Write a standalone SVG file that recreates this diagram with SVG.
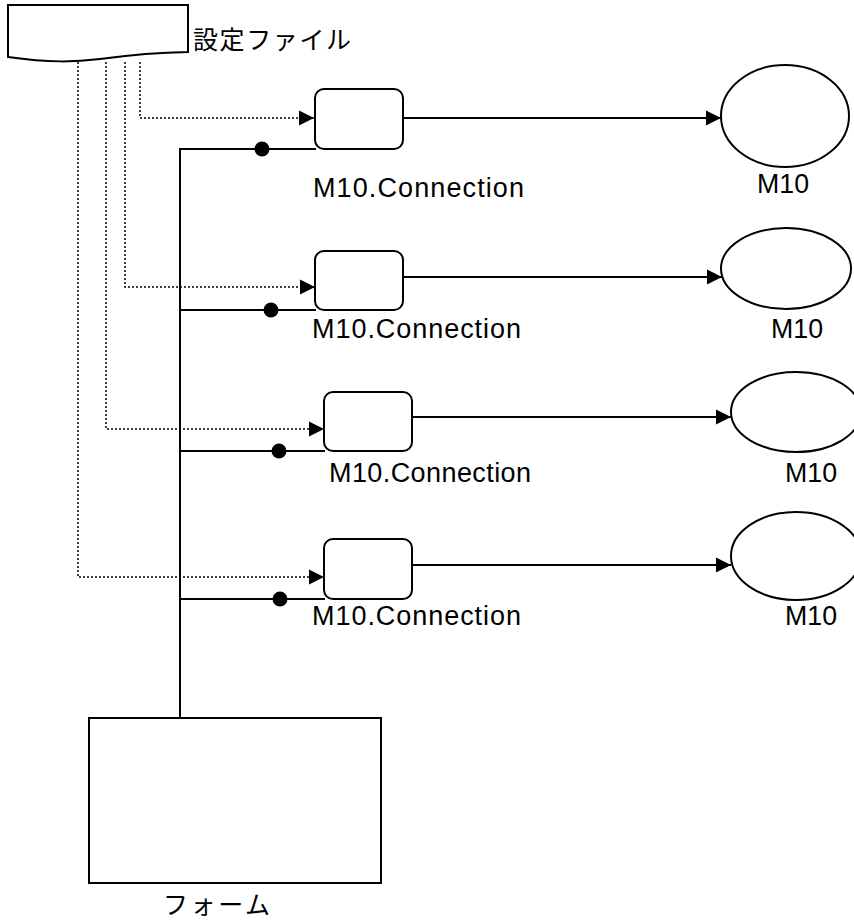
<svg xmlns="http://www.w3.org/2000/svg" width="854" height="921" viewBox="0 0 854 921">
<defs>
<style>
.shape{fill:#fff;stroke:#000;stroke-width:2}
.solid{fill:none;stroke:#000;stroke-width:2}
.dot{fill:none;stroke:#000;stroke-width:1.5;stroke-dasharray:2 2}
.lat{font-family:"Liberation Sans",Arial,sans-serif;font-size:27px;fill:#000}
.cjk{font-family:"Noto Sans CJK JP","Noto Sans CJK SC",sans-serif;font-size:25px;fill:#000}
</style>
<marker id="arr" markerWidth="16" markerHeight="16" refX="15" refY="8" orient="auto" markerUnits="userSpaceOnUse">
<path d="M0,0.5 L15,8 L0,15.5 Z" fill="#000"/>
</marker>
</defs>
<rect width="854" height="921" fill="#fff"/>
<g id="connectors">
<path class="dot" d="M140,62 V118 H314" marker-end="url(#arr)"/>
<path class="dot" d="M125,62 V287 H315" marker-end="url(#arr)"/>
<path class="dot" d="M106,62 V429 H324" marker-end="url(#arr)"/>
<path class="dot" d="M78,62 V577 H324" marker-end="url(#arr)"/>
<path class="solid" d="M180,717 V149 H316"/>
<path class="solid" d="M180,310 H316"/>
<path class="solid" d="M180,451 H325"/>
<path class="solid" d="M180,599 H325"/>
<circle cx="262" cy="149" r="7.5"/>
<circle cx="271" cy="310" r="7.5"/>
<circle cx="279" cy="451" r="7.5"/>
<circle cx="280" cy="599" r="7.5"/>
<path class="solid" d="M403,118 H721" marker-end="url(#arr)"/>
<path class="solid" d="M403,277 H722" marker-end="url(#arr)"/>
<path class="solid" d="M412,417 H731" marker-end="url(#arr)"/>
<path class="solid" d="M412,565 H731" marker-end="url(#arr)"/>
</g>
<g id="config-file">
<path class="shape" d="M8,5 H188 V52 C160,52.5 130,55 100,59 C75,62 50,63 8,57 Z"/>
<text class="cjk" x="193" y="49" textLength="158" lengthAdjust="spacing">設定ファイル</text>
</g>
<g id="conn1">
<rect class="shape" x="315" y="89" width="88" height="60" rx="9"/>
<text class="lat" x="313" y="197" textLength="211" lengthAdjust="spacing">M10.Connection</text>
</g>
<g id="conn2">
<rect class="shape" x="315" y="251" width="88" height="59" rx="9"/>
<text class="lat" x="312" y="338" textLength="209" lengthAdjust="spacing">M10.Connection</text>
</g>
<g id="conn3">
<rect class="shape" x="324" y="392" width="88" height="59" rx="9"/>
<text class="lat" x="329" y="482" textLength="202" lengthAdjust="spacing">M10.Connection</text>
</g>
<g id="conn4">
<rect class="shape" x="324" y="539" width="88" height="60" rx="9"/>
<text class="lat" x="312" y="625" textLength="209" lengthAdjust="spacing">M10.Connection</text>
</g>
<g id="m10-1">
<ellipse class="shape" cx="785" cy="116" rx="64" ry="51"/>
<text class="lat" x="757" y="193" textLength="52" lengthAdjust="spacingAndGlyphs">M10</text>
</g>
<g id="m10-2">
<ellipse class="shape" cx="786" cy="268.5" rx="65" ry="40.5"/>
<text class="lat" x="771" y="338" textLength="52" lengthAdjust="spacingAndGlyphs">M10</text>
</g>
<g id="m10-3">
<ellipse class="shape" cx="796" cy="412" rx="65" ry="40"/>
<text class="lat" x="785" y="482" textLength="52" lengthAdjust="spacingAndGlyphs">M10</text>
</g>
<g id="m10-4">
<ellipse class="shape" cx="796" cy="556" rx="65" ry="44"/>
<text class="lat" x="785" y="625" textLength="52" lengthAdjust="spacingAndGlyphs">M10</text>
</g>
<g id="form">
<rect class="shape" x="89" y="718" width="292" height="165"/>
<text class="cjk" x="163" y="914" textLength="107" lengthAdjust="spacing">フォーム</text>
</g>
</svg>
